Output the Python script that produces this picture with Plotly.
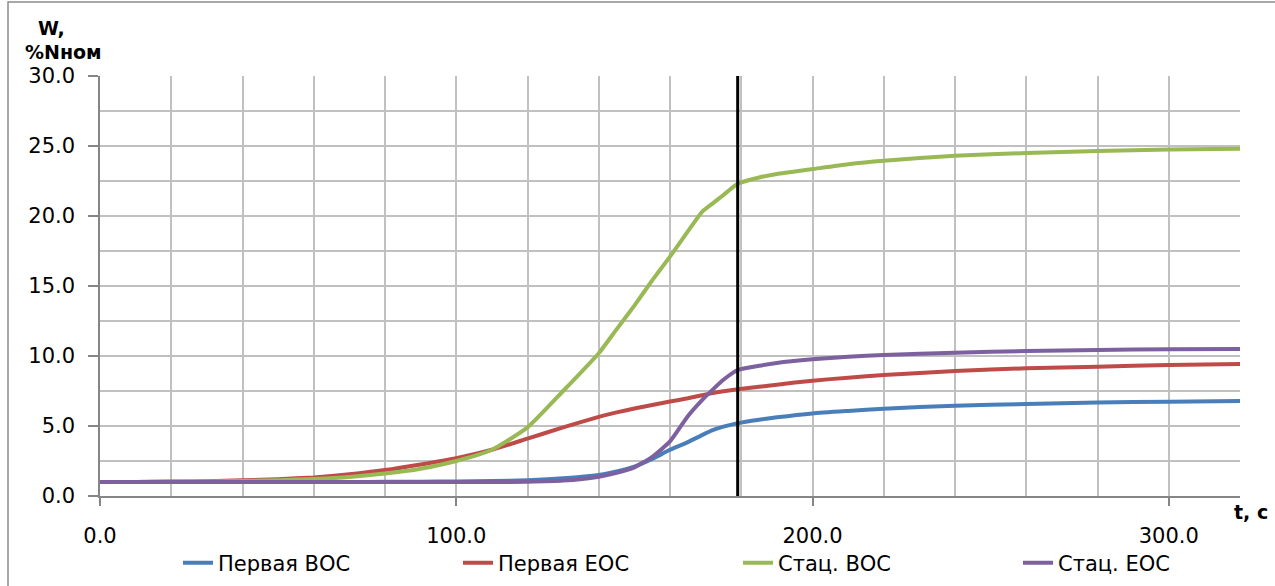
import plotly.graph_objects as go

# ---- data ----
t = [0, 10, 20, 30, 40, 50, 60, 70, 80, 90, 100, 110, 120, 130, 140, 145, 150, 155,
     160, 165, 169, 172, 175, 179, 185, 190, 200, 210, 220, 240, 260, 280, 300, 320]

pervaya_voc = [1.0, 1.0, 1.0, 1.0, 1.0, 1.0, 1.0, 1.0, 1.01, 1.02, 1.04, 1.07, 1.13, 1.26, 1.5, 1.75,
               2.1, 2.65, 3.3, 3.85, 4.35, 4.7, 4.95, 5.2, 5.45, 5.62, 5.9, 6.08, 6.24, 6.45, 6.57,
               6.67, 6.74, 6.79]
pervaya_eoc = [1.0, 1.0, 1.03, 1.06, 1.12, 1.2, 1.33, 1.55, 1.85, 2.25, 2.7, 3.3, 4.1, 4.9, 5.65, 5.97,
               6.25, 6.5, 6.75, 6.98, 7.2, 7.35, 7.48, 7.62, 7.8, 7.95, 8.24, 8.45, 8.64, 8.93, 9.12,
               9.24, 9.36, 9.42]
stac_voc = [1.0, 1.0, 1.02, 1.04, 1.08, 1.13, 1.22, 1.36, 1.6, 1.95, 2.5, 3.3, 4.9, 7.5, 10.2, 11.9,
            13.6, 15.4, 17.1, 18.9, 20.3, 20.9, 21.5, 22.3, 22.75, 23.0, 23.35, 23.7, 23.95, 24.3,
            24.5, 24.65, 24.75, 24.8]
stac_eoc = [1.0, 1.0, 1.0, 1.0, 1.0, 1.0, 1.0, 1.0, 1.0, 1.0, 1.0, 1.0, 1.02, 1.1, 1.38, 1.65,
            2.05, 2.8, 3.9, 5.7, 6.85, 7.6, 8.3, 9.0, 9.3, 9.5, 9.76, 9.95, 10.07, 10.24, 10.36,
            10.43, 10.48, 10.5]

series_names = ["Первая ВОС", "Первая ЕОС", "Стац. ВОС", "Стац. ЕОС"]
series_colors = ["#4a7ebb", "#be4b48", "#98b954", "#7d60a0"]
marker_time = 179

x_ticks = [0, 100, 200, 300]
x_labels = ["0.0", "100.0", "200.0", "300.0"]
y_ticks = [0, 5, 10, 15, 20, 25, 30]
y_labels = ["0.0", "5.0", "10.0", "15.0", "20.0", "25.0", "30.0"]

FONT = "DejaVu Sans"
TICK_SIZE = 21

fig = go.Figure()
for name, vals, col in zip(series_names, [pervaya_voc, pervaya_eoc, stac_voc, stac_eoc], series_colors):
    fig.add_trace(go.Scatter(x=t, y=vals, mode="lines", name=name,
                             line=dict(color=col, width=4, shape="spline", smoothing=0.5)))

fig.add_vline(x=marker_time, line=dict(color="black", width=3), layer="above")

grid = "#c0c0c0"
fig.update_layout(
    width=1275, height=586,
    margin=dict(l=100, r=35, t=76, b=90, autoexpand=False),
    paper_bgcolor="white", plot_bgcolor="white",
    font=dict(family=FONT, size=TICK_SIZE, color="black"),
    xaxis=dict(range=[0, 320], tickvals=x_ticks, ticktext=x_labels,
               showgrid=True, gridcolor=grid, gridwidth=1.5,
               minor=dict(dtick=20, tick0=0, showgrid=True, gridcolor=grid, gridwidth=1.5, ticks=""),
               showline=True, linecolor="#868686", linewidth=1.5,
               ticks="outside", ticklen=8, tickcolor="#868686", tickwidth=1.5,
               ticklabelstandoff=12, zeroline=False, automargin=False,
               tickfont=dict(family=FONT, size=TICK_SIZE, color="black")),
    yaxis=dict(range=[0, 30], tickvals=y_ticks, ticktext=y_labels,
               showgrid=True, gridcolor=grid, gridwidth=1.5,
               minor=dict(dtick=2.5, tick0=0, showgrid=True, gridcolor=grid, gridwidth=1.5, ticks=""),
               showline=True, linecolor="#868686", linewidth=1.5,
               ticks="outside", ticklen=10, tickcolor="#868686", tickwidth=1.5,
               ticklabelstandoff=9, zeroline=False, automargin=False,
               tickfont=dict(family=FONT, size=TICK_SIZE, color="black")),
    legend=dict(orientation="h", x=(178 - 100) / 1140, xanchor="left",
                y=(496 - 563) / 420, yanchor="middle",
                entrywidth=235, entrywidthmode="pixels",
                font=dict(family=FONT, size=21, color="black"),
                bgcolor="rgba(0,0,0,0)"),
    showlegend=True,
)

# axis titles
fig.add_annotation(x=(51 - 100) / 1140, y=(496 - 28) / 420, xref="paper", yref="paper",
                   xanchor="center", yanchor="middle",
                   text="<b>W,</b>", showarrow=False, font=dict(family=FONT, size=19, color="black"))
fig.add_annotation(x=(63 - 100) / 1140, y=(496 - 52) / 420, xref="paper", yref="paper",
                   xanchor="center", yanchor="middle",
                   text="<b>%Nном</b>", showarrow=False, font=dict(family=FONT, size=19, color="black"))
fig.add_annotation(x=(1251 - 100) / 1140, y=(496 - 512) / 420, xref="paper", yref="paper",
                   xanchor="center", yanchor="middle",
                   text="<b>t, c</b>", showarrow=False, font=dict(family=FONT, size=19, color="black"))

# outer chart frame (top and left edges visible)
fig.add_shape(type="rect", xref="paper", yref="paper",
              x0=(8 - 100) / 1140, x1=(1300 - 100) / 1140,
              y0=(496 - 620) / 420, y1=(496 - 2) / 420,
              line=dict(color="#8c8c8c", width=1.5), layer="below")

fig.write_html("out.html")
